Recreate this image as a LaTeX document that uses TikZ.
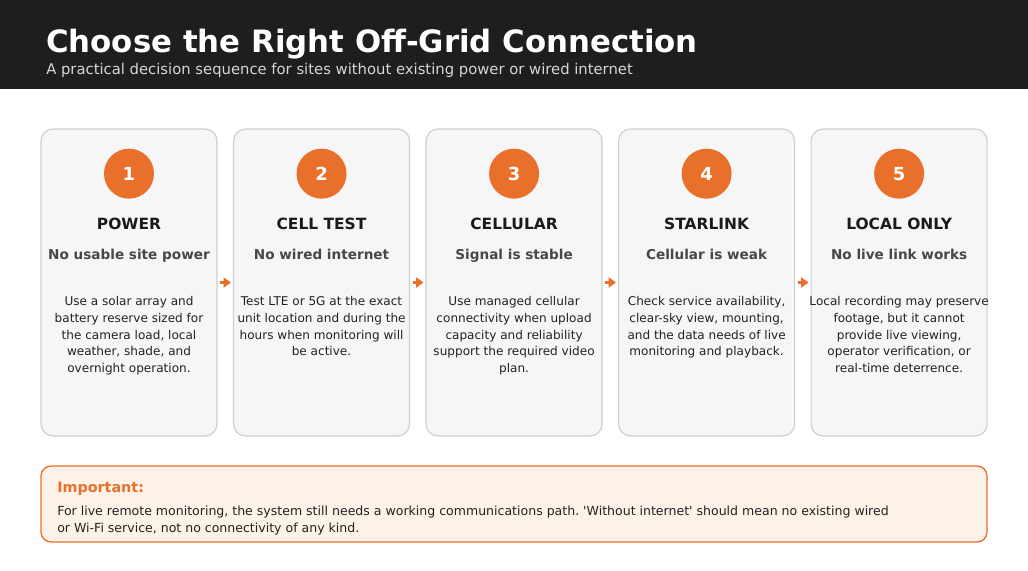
\documentclass[tikz,border=0pt]{standalone}
\usepackage{fontspec}
\setmainfont{DejaVu Sans}
\usetikzlibrary{positioning,arrows.meta}
\frenchspacing

\definecolor{hdrbg}{HTML}{1E1E1E}
\definecolor{hdrsub}{HTML}{D6D6D6}
\definecolor{accent}{HTML}{E8702A}
\definecolor{cardbg}{HTML}{F6F6F6}
\definecolor{cardline}{HTML}{CFCFCF}
\definecolor{titleink}{HTML}{1A1A1A}
\definecolor{subink}{HTML}{474747}
\definecolor{bodyink}{HTML}{222222}
\definecolor{notebg}{HTML}{FDF2E8}

\begin{document}
\begin{tikzpicture}[x=0.75pt,y=-0.75pt,>={Triangle[length=5.5pt,width=7.5pt]},
    card/.style={draw=cardline, fill=cardbg, rounded corners=9pt, line width=0.9pt,
      minimum width=132pt, minimum height=230.25pt, inner sep=0pt},
    numdot/.style={circle, fill=accent, minimum size=37.5pt, inner sep=0pt,
      text=white, font=\fontsize{13.5}{16}\selectfont\bfseries},
    cardtitle/.style={anchor=base, inner sep=0pt, text=titleink,
      font=\fontsize{11.6}{14}\selectfont\bfseries},
    cardsub/.style={anchor=base, inner sep=0pt, text=subink,
      font=\fontsize{10.2}{12}\selectfont\bfseries},
    cardbody/.style={anchor=north, inner sep=0pt, align=center, text=bodyink,
      font=\fontsize{9.05}{12.5}\selectfont},
    flowarrow/.style={->, draw=accent, line width=1.6pt, shorten <=2pt, shorten >=1.5pt}]

    \useasboundingbox (0,0) rectangle (1028,571);
    \fill[hdrbg] (0,0) rectangle (1028,89);
    \node[anchor=base west, inner sep=0pt, text=white, font=\fontsize{23.1}{28}\selectfont\bfseries]
      (maintitle) at (46,52) {Choose the Right Off-Grid Connection};
    \node[anchor=base west, inner sep=0pt, text=hdrsub, font=\fontsize{11.1}{13}\selectfont]
      (subtitle) at (46,74) {A practical decision sequence for sites without existing power or wired internet};

    % the five steps
    \node[card] (card1) at (129,282.5) {};
    \node[card, right=11.5pt of card1] (card2) {};
    \node[card, right=11.5pt of card2] (card3) {};
    \node[card, right=11.5pt of card3] (card4) {};
    \node[card, right=11.5pt of card4] (card5) {};

    \node[numdot, below=15pt of card1.north] (num1) {1};
    \node[numdot, below=15pt of card2.north] (num2) {2};
    \node[numdot, below=15pt of card3.north] (num3) {3};
    \node[numdot, below=15pt of card4.north] (num4) {4};
    \node[numdot, below=15pt of card5.north] (num5) {5};

    \node[cardtitle] (head1) at ([yshift=-75.5pt]card1.north) {POWER};
    \node[cardtitle] (head2) at ([yshift=-75.5pt]card2.north) {CELL TEST};
    \node[cardtitle] (head3) at ([yshift=-75.5pt]card3.north) {CELLULAR};
    \node[cardtitle] (head4) at ([yshift=-75.5pt]card4.north) {STARLINK};
    \node[cardtitle] (head5) at ([yshift=-75.5pt]card5.north) {LOCAL ONLY};

    \node[cardsub] (cond1) at ([yshift=-98.25pt]card1.north) {No usable site power};
    \node[cardsub] (cond2) at ([yshift=-98.25pt]card2.north) {No wired internet};
    \node[cardsub] (cond3) at ([yshift=-98.25pt]card3.north) {Signal is stable};
    \node[cardsub] (cond4) at ([yshift=-98.25pt]card4.north) {Cellular is weak};
    \node[cardsub] (cond5) at ([yshift=-98.25pt]card5.north) {No live link works};

    \node[cardbody] (text1) at ([yshift=-126pt]card1.north)
      {Use a solar array and\\battery reserve sized for\\the camera load, local\\weather, shade, and\\overnight operation.};
    \node[cardbody] (text2) at ([yshift=-126pt]card2.north)
      {Test LTE or 5G at the exact\\unit location and during the\\hours when monitoring will\\be active.};
    \node[cardbody] (text3) at ([yshift=-126pt]card3.north)
      {Use managed cellular\\connectivity when upload\\capacity and reliability\\support the required video\\plan.};
    \node[cardbody] (text4) at ([yshift=-126pt]card4.north)
      {Check service availability,\\clear-sky view, mounting,\\and the data needs of live\\monitoring and playback.};
    \node[cardbody] (text5) at ([yshift=-126pt]card5.north)
      {Local recording may preserve\\footage, but it cannot\\provide live viewing,\\operator verification, or\\real-time deterrence.};

    \draw[flowarrow] (card1) -- (card2);
    \draw[flowarrow] (card2) -- (card3);
    \draw[flowarrow] (card3) -- (card4);
    \draw[flowarrow] (card4) -- (card5);

    % note at the bottom
    \node[draw=accent, fill=notebg, line width=1pt, rounded corners=7.5pt,
      minimum width=709.5pt, minimum height=57pt, inner sep=0pt] (note) at (514,504) {};
    \node[anchor=base west, inner sep=0pt, text=accent, font=\fontsize{10.75}{13}\selectfont\bfseries]
      (notehead) at (57,492) {Important:};
    \node[anchor=north west, inner sep=0pt, align=left, text=bodyink, font=\fontsize{9.4}{12.75}\selectfont]
      (notetext) at (57,505.5) {For live remote monitoring, the system still needs a working communications path. \textquotesingle Without internet\textquotesingle{} should mean no existing wired\\or Wi-Fi service, not no connectivity of any kind.};
\end{tikzpicture}
\end{document}
